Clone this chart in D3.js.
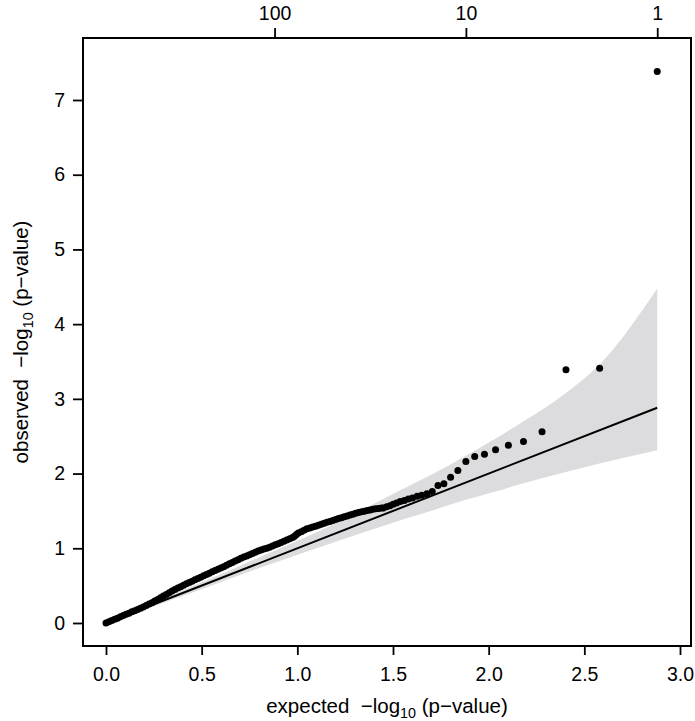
<!DOCTYPE html>
<html lang="en">
<head>
<meta charset="UTF-8">
<title>QQ plot</title>
<script src="https://cdnjs.cloudflare.com/ajax/libs/d3/7.8.5/d3.min.js"></script>
<style>
  body { margin: 0; background: #fff; }
  svg { display: block; font-family: "Liberation Sans", Arial, Helvetica, sans-serif; }
  text { white-space: pre; }
</style>
</head>
<body>
<div id="chart"></div>
<script>
// expected vs observed -log10(p)
const expected = [
  0.000, 0.015, 0.030, 0.045, 0.060, 0.075, 0.090, 0.105, 0.120, 0.135,
  0.150, 0.165, 0.180, 0.195, 0.210, 0.225, 0.240, 0.255, 0.270, 0.285,
  0.300, 0.315, 0.330, 0.345, 0.360, 0.375, 0.390, 0.405, 0.420, 0.435,
  0.450, 0.465, 0.480, 0.495, 0.510, 0.525, 0.540, 0.555, 0.570, 0.585,
  0.600, 0.615, 0.630, 0.645, 0.660, 0.675, 0.690, 0.705, 0.720, 0.735,
  0.750, 0.765, 0.780, 0.795, 0.810, 0.825, 0.840, 0.855, 0.870, 0.885,
  0.900, 0.915, 0.930, 0.945, 0.960, 0.975, 0.985, 0.995, 1.005, 1.020,
  1.035, 1.050, 1.065, 1.080, 1.095, 1.110, 1.125, 1.140, 1.155, 1.170,
  1.185, 1.200, 1.215, 1.230, 1.245, 1.260, 1.275, 1.290, 1.305, 1.320,
  1.335, 1.350, 1.365, 1.380, 1.395, 1.410, 1.425, 1.440,
  1.450, 1.467, 1.484, 1.501, 1.519, 1.538, 1.559, 1.580, 1.602, 1.626,
  1.650, 1.677, 1.705, 1.735, 1.766, 1.801, 1.839, 1.881, 1.927, 1.978,
  2.036, 2.103, 2.182, 2.279, 2.404, 2.580, 2.881
];
const observed = [
  0.000, 0.017, 0.033, 0.049, 0.065, 0.083, 0.099, 0.116, 0.132, 0.149,
  0.164, 0.181, 0.198, 0.214, 0.233, 0.253, 0.272, 0.293, 0.315, 0.338,
  0.361, 0.383, 0.405, 0.428, 0.448, 0.467, 0.486, 0.505, 0.524, 0.542,
  0.559, 0.578, 0.596, 0.614, 0.632, 0.649, 0.666, 0.685, 0.702, 0.719,
  0.737, 0.754, 0.773, 0.792, 0.810, 0.829, 0.847, 0.866, 0.882, 0.898,
  0.915, 0.931, 0.948, 0.965, 0.978, 0.990, 1.002, 1.015, 1.030, 1.046,
  1.061, 1.077, 1.094, 1.110, 1.127, 1.144, 1.160, 1.185, 1.203, 1.222,
  1.242, 1.260, 1.272, 1.284, 1.296, 1.309, 1.321, 1.334, 1.347, 1.360,
  1.372, 1.385, 1.397, 1.409, 1.421, 1.433, 1.445, 1.457, 1.469, 1.478,
  1.488, 1.497, 1.506, 1.514, 1.522, 1.530, 1.534, 1.538,
  1.540, 1.555, 1.570, 1.590, 1.605, 1.626, 1.640, 1.658, 1.672, 1.695,
  1.710, 1.730, 1.760, 1.840, 1.865, 1.950, 2.040, 2.160, 2.230, 2.260,
  2.320, 2.380, 2.430, 2.560, 3.390, 3.410, 7.380
];

// confidence band around the diagonal
const bandX     = [0.000, 0.103, 0.279, 0.404, 0.580, 0.705, 0.881, 1.182, 1.403, 1.580, 1.705, 1.881, 2.036, 2.182, 2.404, 2.580, 2.881];
const bandLower = [0.000, 0.086, 0.250, 0.366, 0.530, 0.646, 0.806, 1.072, 1.262, 1.408, 1.507, 1.648, 1.761, 1.870, 2.021, 2.134, 2.313];
const bandUpper = [0.002, 0.118, 0.309, 0.443, 0.634, 0.771, 0.967, 1.311, 1.600, 1.830, 1.990, 2.240, 2.470, 2.700, 3.080, 3.460, 4.477];

const diagonal = [0, 2.881];

const xTicks = [0.0, 0.5, 1.0, 1.5, 2.0, 2.5, 3.0];
const yTicks = [0, 1, 2, 3, 4, 5, 6, 7];
const topTickPos = [0.881, 1.881, 2.881];
const topTickLabels = ["100", "10", "1"];

const W = 695, H = 721;
const box = { left: 83, top: 38, right: 691, bottom: 646 };
const fs = 19.5;     // tick labels
const fsTitle = 20.5; // axis titles

const svg = d3.select("#chart").append("svg")
  .attr("width", W).attr("height", H);

const x = d3.scaleLinear().domain([0, 3]).range([106, 680]);
const y = d3.scaleLinear().domain([0, 7]).range([623, 100]);

// band
const band = bandX.map((v, i) => ({ x: v, lo: bandLower[i], hi: bandUpper[i] }));
svg.append("path")
  .datum(band)
  .attr("fill", "#dcdcde")
  .attr("d", d3.area()
    .x(d => x(d.x)).y0(d => y(d.lo)).y1(d => y(d.hi))
    .curve(d3.curveMonotoneX));

// y = x line
svg.append("line")
  .attr("x1", x(diagonal[0])).attr("y1", y(diagonal[0]))
  .attr("x2", x(diagonal[1])).attr("y2", y(diagonal[1]))
  .attr("stroke", "#000").attr("stroke-width", 2);

// points
const pts = expected.map((e, i) => ({ e, o: observed[i] }));
svg.append("g").selectAll("circle")
  .data(pts)
  .join("circle")
  .attr("cx", d => x(d.e))
  .attr("cy", d => y(d.o))
  .attr("r", 3.5)
  .attr("fill", "#000");

// frame
svg.append("rect")
  .attr("x", box.left).attr("y", box.top)
  .attr("width", box.right - box.left).attr("height", box.bottom - box.top)
  .attr("fill", "none").attr("stroke", "#000").attr("stroke-width", 2);

function styleAxis(g) {
  g.select(".domain").remove();
  g.selectAll(".tick line").attr("stroke", "#000").attr("stroke-width", 1.8);
  g.selectAll(".tick text").attr("fill", "#000")
    .style("font-size", fs + "px")
    .style("font-family", "'Liberation Sans', Arial, Helvetica, sans-serif");
}

svg.append("g")
  .attr("transform", `translate(0,${box.bottom})`)
  .call(d3.axisBottom(x).tickValues(xTicks).tickFormat(d3.format(".1f")).tickSize(9).tickPadding(12))
  .call(styleAxis);

svg.append("g")
  .attr("transform", `translate(${box.left},0)`)
  .call(d3.axisLeft(y).tickValues(yTicks).tickFormat(d3.format("d")).tickSize(10).tickPadding(8))
  .call(styleAxis);

svg.append("g")
  .attr("transform", `translate(0,${box.top})`)
  .call(d3.axisTop(x).tickValues(topTickPos).tickFormat((d, i) => topTickLabels[i]).tickSize(10).tickPadding(8))
  .call(styleAxis);

// axis titles
function title(sel, pre) {
  sel.append("tspan").text(pre + "\u00a0\u00a0\u2212log");
  sel.append("tspan").attr("dy", 5).style("font-size", (fsTitle * 0.7) + "px").text("10");
  sel.append("tspan").attr("dy", -5).text(" (p\u2212value)");
}

svg.append("text")
  .attr("x", (box.left + box.right) / 2).attr("y", 713)
  .attr("text-anchor", "middle")
  .style("font-size", fsTitle + "px")
  .call(title, "expected");

svg.append("text")
  .attr("transform", `translate(28,${(box.top + box.bottom) / 2}) rotate(-90)`)
  .attr("text-anchor", "middle")
  .style("font-size", fsTitle + "px")
  .call(title, "observed");
</script>
</body>
</html>
